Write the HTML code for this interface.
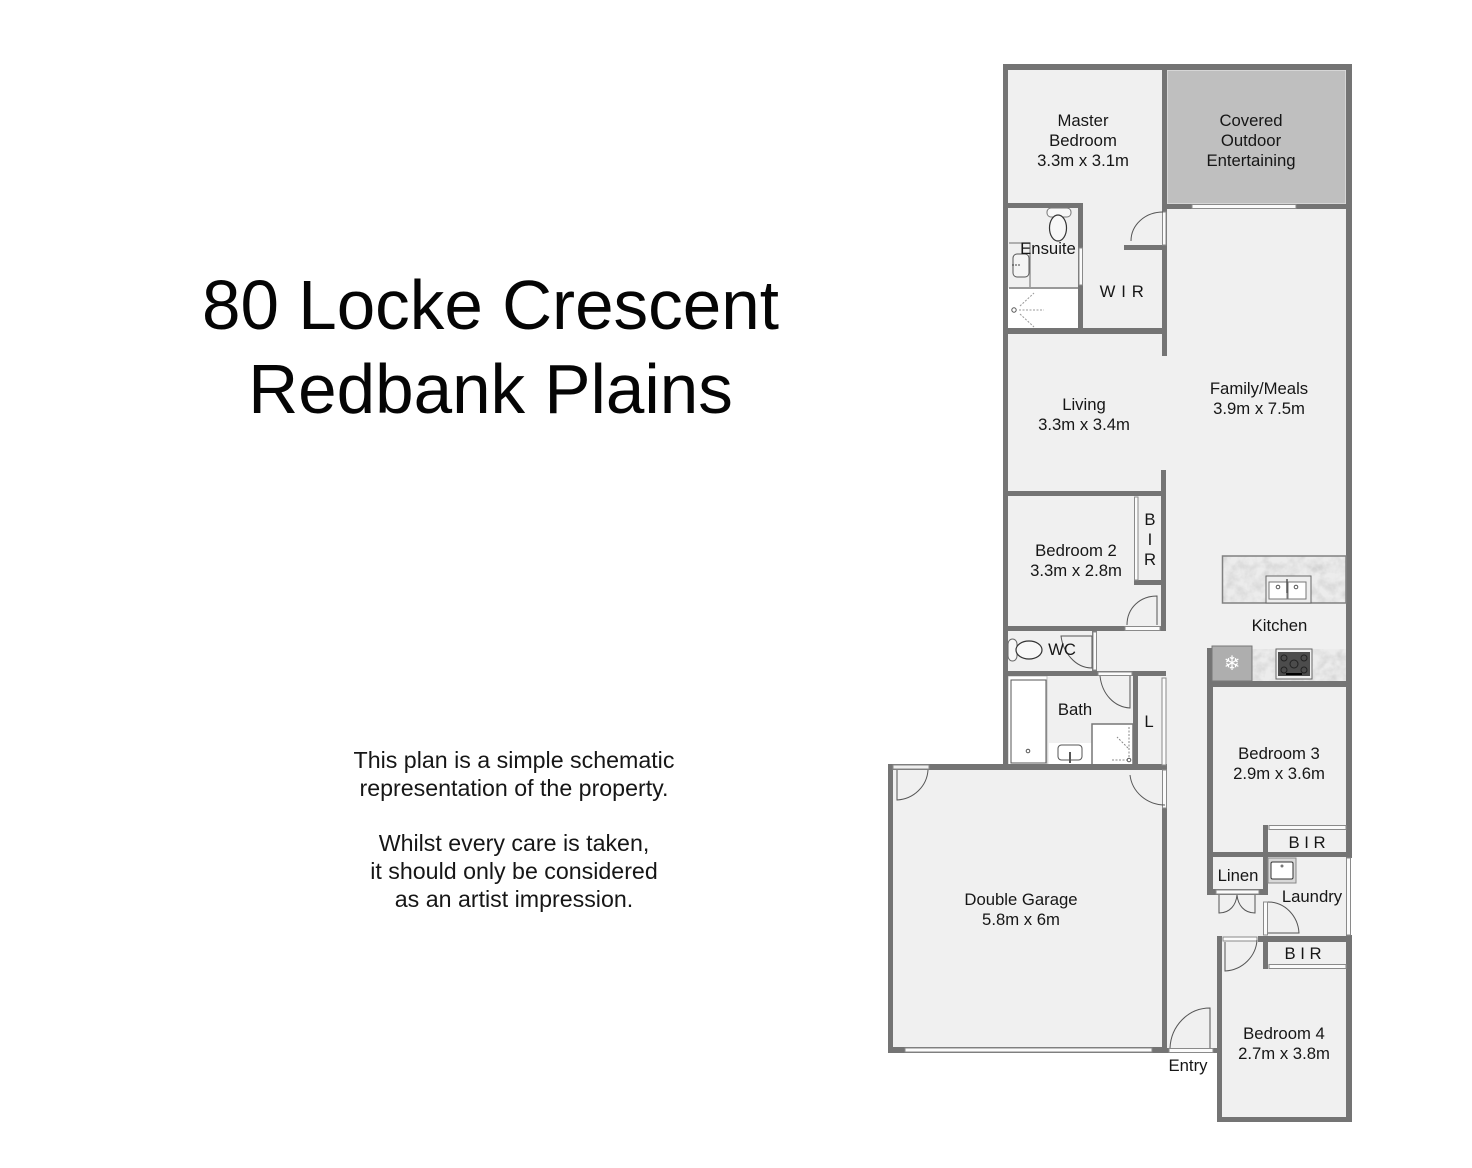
<!DOCTYPE html>
<html><head><meta charset="utf-8"><style>
html,body{margin:0;padding:0;background:#fff;width:1472px;height:1168px;overflow:hidden}
svg{display:block}
text{font-family:"Liberation Sans",Arial,sans-serif;fill:#111}
.r{font-size:16.7px;text-anchor:middle;fill:#161616}
.n{font-size:23.2px;text-anchor:middle;fill:#161616}
.t{font-size:69.2px;text-anchor:middle;fill:#050505}
.w{fill:#747474}
.l{fill:none;stroke:#555;stroke-width:1}
.win{fill:#fbfbfb;stroke:#8a8a8a;stroke-width:1}
.plan{filter:blur(0.35px)}
</style></head><body>
<svg width="1472" height="1168" viewBox="0 0 1472 1168" xmlns="http://www.w3.org/2000/svg">
<defs>
<filter id="m" x="0" y="0" width="100%" height="100%"><feTurbulence type="fractalNoise" baseFrequency="0.11" numOctaves="3" seed="4" result="n"/><feColorMatrix in="n" type="matrix" values="0 0 0 0 0.55 0 0 0 0 0.55 0 0 0 0 0.55 0.8 0.8 0 0 -0.62" result="c"/><feComposite in="c" in2="SourceGraphic" operator="atop"/><feMerge><feMergeNode in="SourceGraphic"/><feMergeNode/></feMerge></filter>
</defs>
<rect width="1472" height="1168" fill="#fff"/>
<text class="t" x="490.500" y="329">80 Locke Crescent</text>
<text class="t" x="490.500" y="413">Redbank Plains</text>
<text class="n" x="514" y="768">This plan is a simple schematic</text>
<text class="n" x="514" y="796">representation of the property.</text>
<text class="n" x="514" y="851">Whilst every care is taken,</text>
<text class="n" x="514" y="879">it should only be considered</text>
<text class="n" x="514" y="907">as an artist impression.</text>
<g class="plan">
<!-- floors -->
<path d="M1006 67H1349V1120H1220V1050H1165V1050H890V767H1006Z" fill="#f0f0f0"/>
<rect x="1167" y="70" width="179" height="134" fill="#bfbfbf" stroke="#ddd" stroke-width="1.500"/>
<rect x="1008" y="288" width="70" height="41" fill="#fff"/>
<rect x="1008" y="676" width="39" height="90" fill="#fff" stroke="#bbb" stroke-width="1"/>
<rect x="1011" y="680" width="35" height="83" fill="#fff" stroke="#555" stroke-width="1"/>
<rect x="1049" y="743" width="43" height="23" fill="#fff"/>
<path d="M1092 766V724H1133V766Z" fill="#fff" stroke="#777" stroke-width="1.500"/>
<!-- walls -->
<g class="w">
<rect x="1003" y="64" width="349" height="6"/>
<rect x="1003" y="64" width="5" height="703"/>
<rect x="1346" y="64" width="6" height="761"/>
<rect x="1346" y="825" width="6" height="33"/>
<rect x="1346" y="935" width="6" height="187"/>
<rect x="1162" y="64" width="5" height="292"/>
<rect x="1162" y="204" width="184" height="5"/>
<rect x="1008" y="203" width="75" height="5"/>
<rect x="1078" y="203" width="5" height="130"/>
<rect x="1008" y="328" width="159" height="6"/>
<rect x="1124" y="245" width="39" height="5"/>
<rect x="1161" y="470" width="5" height="161"/>
<rect x="1008" y="491" width="158" height="5"/>
<rect x="1134" y="580" width="28" height="5"/>
<rect x="1008" y="626" width="158" height="5"/>
<rect x="1092" y="631" width="5" height="45"/>
<rect x="1008" y="671" width="158" height="5"/>
<rect x="1133" y="672" width="5" height="95"/>
<rect x="888" y="764" width="279" height="6"/>
<rect x="888" y="764" width="5" height="289"/>
<rect x="1162" y="808" width="5" height="245"/>
<rect x="888" y="1047" width="279" height="6"/>
<rect x="1167" y="1048" width="50" height="5"/>
<rect x="1207" y="648" width="6" height="247"/>
<rect x="1207" y="681" width="145" height="6"/>
<rect x="1263" y="825" width="5" height="70"/>
<rect x="1207" y="852" width="145" height="5"/>
<rect x="1207" y="889" width="61" height="6"/>
<rect x="1258" y="936" width="94" height="6"/>
<rect x="1263" y="936" width="5" height="33"/>
<rect x="1217" y="936" width="5" height="186"/>
<rect x="1217" y="1117" width="135" height="5"/>
</g>
<!-- windows and openings -->
<g class="win">
<rect x="1192" y="204.500" width="104" height="4"/>
<rect x="1079" y="248" width="3.500" height="37"/>
<rect x="1162.500" y="212" width="3.500" height="33"/>
<rect x="1134.500" y="497" width="3.500" height="83"/>
<rect x="1125" y="626.500" width="35" height="4"/>
<rect x="1093" y="632" width="3.500" height="38"/>
<rect x="1098" y="672" width="34" height="3.500"/>
<rect x="1162" y="678" width="4" height="87"/>
<rect x="893" y="765" width="36" height="4" style="fill:#efefef"/>
<rect x="1162.500" y="770" width="4" height="38"/>
<rect x="905" y="1048" width="247" height="4"/>
<rect x="1169" y="1048.500" width="44" height="4"/>
<rect x="1269" y="825.500" width="77" height="4"/>
<rect x="1216" y="890" width="43" height="4"/>
<rect x="1263.500" y="902" width="4" height="33"/>
<rect x="1346.500" y="858" width="4" height="77"/>
<rect x="1223" y="937" width="34" height="4"/>
<rect x="1269" y="964.500" width="77" height="4"/>
</g>
<rect x="1009" y="287" width="69" height="2" fill="#999"/>
<!-- doors -->
<g class="l">
<path d="M1131 241C1131 225 1145 212 1163 212"/>
<path d="M1127 625C1127 608 1140 596 1157 596V625"/>
<path d="M1061 636H1092V668C1075 668 1063 652 1061 636Z"/>
<path d="M1100 676C1102 694 1114 707 1130 708V676"/>
<path d="M897 770V800C914 799 927 786 928 770"/>
<path d="M1130 775C1132 792 1147 805 1165 805"/>
<path d="M1219 895V913C1230 913 1236 905 1237 895C1238 905 1244 913 1255 913V895"/>
<path d="M1268 902C1285 902 1298 916 1299 933H1268"/>
<path d="M1225 942V971C1243 970 1256 956 1257 940"/>
<path d="M1170 1048C1171 1026 1188 1008 1210 1008V1048"/>
</g>
<!-- ensuite fixtures -->
<rect x="1047" y="208" width="24" height="9" rx="4" fill="#f7f7f7" stroke="#777"/>
<ellipse cx="1058" cy="228" rx="8.500" ry="13" fill="#f7f7f7" stroke="#333" stroke-width="1.200"/>
<path d="M1009 243H1030V287" fill="none" stroke="#888" stroke-width="1.300"/>
<rect x="1013" y="254" width="16" height="23" rx="4" fill="#f4f4f4" stroke="#555"/>
<circle cx="1014" cy="310" r="2.200" fill="none" stroke="#555"/>
<path d="M1019 310H1044M1020 306L1034 293M1020 314L1034 327" stroke="#999" fill="none" stroke-dasharray="2 1.500"/>
<path d="M1012 265H1021" stroke="#444" stroke-dasharray="2 1"/>
<!-- wc -->
<rect x="1008" y="639" width="9" height="22" rx="5" fill="#f7f7f7" stroke="#666"/>
<ellipse cx="1029" cy="650" rx="13" ry="9" fill="#f7f7f7" stroke="#333" stroke-width="1.200"/>
<!-- bath -->
<circle cx="1028" cy="751" r="1.800" fill="none" stroke="#555"/>
<rect x="1058" y="745" width="24" height="15" rx="3.500" fill="#fff" stroke="#555"/>
<path d="M1070 752V763" stroke="#555" stroke-width="2"/>
<path d="M1128 748L1117 737M1129 727V760M1112 760H1128" stroke="#888" fill="none" stroke-dasharray="2 1.500"/>
<circle cx="1129" cy="760" r="1.800" fill="#fff" stroke="#555"/>
<!-- kitchen -->
<rect x="1222.500" y="556" width="123.500" height="47" fill="#ececec" filter="url(#m)"/>
<rect x="1222.500" y="556" width="123.500" height="47" fill="none" stroke="#808080" stroke-width="1.500"/>
<rect x="1266" y="576" width="45" height="27" fill="#eee" stroke="#666"/>
<rect x="1269" y="582" width="18" height="17" fill="#fff" stroke="#777"/>
<rect x="1288" y="582" width="18" height="17" fill="#fff" stroke="#777"/>
<path d="M1287 579V593" stroke="#555" stroke-width="1.500"/>
<circle cx="1278" cy="587" r="1.800" fill="none" stroke="#555"/>
<circle cx="1296" cy="587" r="1.800" fill="none" stroke="#555"/>
<rect x="1252" y="649" width="94" height="32" fill="#ececec" filter="url(#m)"/>
<rect x="1212" y="646" width="40" height="35" fill="#aeaeae" stroke="#777"/>
<text x="1232" y="670" style="font-family:'DejaVu Sans',sans-serif;font-size:20px;text-anchor:middle;fill:#fff">❄</text>
<rect x="1276" y="649" width="36" height="30" fill="#f0f0f0" stroke="#666"/>
<rect x="1278" y="652" width="32" height="24" fill="#4c4c4c"/>
<circle cx="1294" cy="664" r="4" fill="none" stroke="#222"/>
<circle cx="1284" cy="658" r="3" fill="none" stroke="#222"/>
<circle cx="1304" cy="658" r="3" fill="none" stroke="#222"/>
<circle cx="1284" cy="670" r="3" fill="none" stroke="#222"/>
<circle cx="1304" cy="670" r="3" fill="none" stroke="#222"/>
<rect x="1286" y="673" width="16" height="2" fill="#000"/>
<!-- laundry sink -->
<rect x="1268" y="858" width="28" height="25" fill="#d8d8d8" stroke="#888"/>
<rect x="1271" y="862" width="22" height="17" rx="1.500" fill="#fff" stroke="#333"/>
<circle cx="1282" cy="866" r="1.500" fill="#777"/>
<!-- labels -->
<text class="r" x="1083" y="126">Master</text>
<text class="r" x="1083" y="146">Bedroom</text>
<text class="r" x="1083" y="166">3.3m x 3.1m</text>
<text class="r" x="1251" y="126">Covered</text>
<text class="r" x="1251" y="146">Outdoor</text>
<text class="r" x="1251" y="166">Entertaining</text>
<text class="r" x="1048" y="254">Ensuite</text>
<text class="r" x="1122" y="297" style="letter-spacing:0.600px">W I R</text>
<text class="r" x="1259" y="394">Family/Meals</text>
<text class="r" x="1259" y="414">3.9m x 7.5m</text>
<text class="r" x="1084" y="410">Living</text>
<text class="r" x="1084" y="430">3.3m x 3.4m</text>
<text class="r" x="1076" y="556">Bedroom 2</text>
<text class="r" x="1076" y="576">3.3m x 2.8m</text>
<text class="r" x="1150" y="525">B</text>
<text class="r" x="1150" y="545">I</text>
<text class="r" x="1150" y="565">R</text>
<text class="r" x="1279.500" y="631">Kitchen</text>
<text class="r" x="1062" y="655">WC</text>
<text class="r" x="1075" y="715">Bath</text>
<text class="r" x="1149" y="727">L</text>
<text class="r" x="1279" y="759">Bedroom 3</text>
<text class="r" x="1279" y="779">2.9m x 3.6m</text>
<text class="r" x="1307" y="848">B I R</text>
<text class="r" x="1238" y="881">Linen</text>
<text class="r" x="1312" y="902">Laundry</text>
<text class="r" x="1303" y="959">B I R</text>
<text class="r" x="1021" y="905">Double Garage</text>
<text class="r" x="1021" y="925">5.8m x 6m</text>
<text class="r" x="1284" y="1039">Bedroom 4</text>
<text class="r" x="1284" y="1059">2.7m x 3.8m</text>
<text class="r" x="1188" y="1071">Entry</text>
</g>
</svg>
</body></html>
